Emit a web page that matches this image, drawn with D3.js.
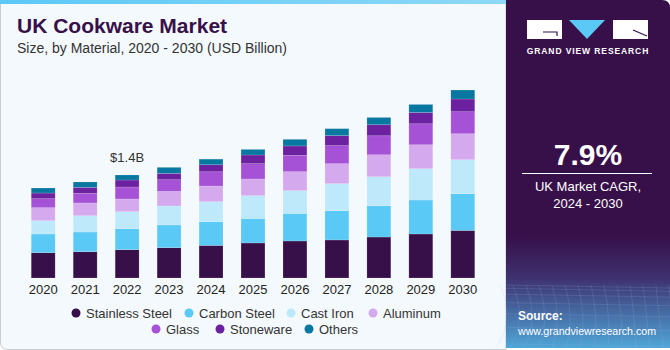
<!DOCTYPE html>
<html>
<head>
<meta charset="utf-8">
<script src="https://cdn.jsdelivr.net/npm/d3@7"></script>
<style>
  body { margin: 0; background: #fff; }
  svg { display: block; font-family: "Liberation Sans", Arial, sans-serif; }
</style>
</head>
<body>
<svg id="chart" width="670" height="350"></svg>
<script>
// data, USD billion
const years = ["2020", "2021", "2022", "2023", "2024", "2025", "2026", "2027", "2028", "2029", "2030"]
const materials = ["Stainless Steel", "Carbon Steel", "Cast Iron", "Aluminum", "Glass", "Stoneware", "Others"]
const stainlessSteel = [0.344, 0.357, 0.385, 0.412, 0.443, 0.476, 0.503, 0.517, 0.557, 0.598, 0.647]
const carbonSteel    = [0.254, 0.268, 0.285, 0.309, 0.322, 0.334, 0.375, 0.398, 0.425, 0.462, 0.499]
const castIron       = [0.181, 0.222, 0.231, 0.258, 0.272, 0.309, 0.309, 0.367, 0.394, 0.425, 0.462]
const aluminum       = [0.177, 0.173, 0.173, 0.198, 0.213, 0.227, 0.258, 0.272, 0.299, 0.326, 0.353]
const glass          = [0.122, 0.130, 0.163, 0.159, 0.194, 0.208, 0.222, 0.245, 0.258, 0.285, 0.299]
const stoneware      = [0.077, 0.082, 0.095, 0.086, 0.095, 0.118, 0.128, 0.136, 0.150, 0.154, 0.173]
const others         = [0.068, 0.073, 0.068, 0.082, 0.077, 0.076, 0.090, 0.095, 0.099, 0.109, 0.122]
const colors = ["#37104a", "#5bc9f5", "#bde9fa", "#d5a9ee", "#a552d7", "#6c21a0", "#0878a0"]

const series = [stainlessSteel, carbonSteel, castIron, aluminum, glass, stoneware, others]
const table = years.map((y, i) => {
    const row = { year: y }
    materials.forEach((m, j) => { row[m] = series[j][i] })
    return row
})

const svg = d3.select("#chart")

// left panel background
svg.append("path")
    .attr("d", "M0.5,0.5 H506 V349.5 H8 Q0.5,349.5 0.5,342 Z")
    .attr("fill", "#f4f9fd")
    .attr("stroke", "#c9ccd0")
const topGrad = svg.append("defs").append("linearGradient").attr("id", "topbar")
topGrad.append("stop").attr("offset", "0%").attr("stop-color", "#5bc9f5")
topGrad.append("stop").attr("offset", "100%").attr("stop-color", "#8fd8f7")
svg.append("rect").attr("x", 0).attr("y", 0).attr("width", 506).attr("height", 4).attr("fill", "url(#topbar)")

// titles
svg.append("text").attr("x", 17).attr("y", 33)
    .attr("font-size", 21).attr("font-weight", "bold").attr("fill", "#37104a")
    .text("UK Cookware Market")
svg.append("text").attr("x", 17).attr("y", 53)
    .attr("font-size", 14).attr("fill", "#333")
    .text("Size, by Material, 2020 - 2030 (USD Billion)")

// scales
const baseY = 278
const pxPerB = 73.57
const x = d3.scaleBand().domain(years).range([22, 484]).paddingInner(0.43).paddingOuter(0.22)
const y = d3.scaleLinear().domain([0, 2.6]).range([baseY, baseY - 2.6 * pxPerB])

const stack = d3.stack().keys(materials)(table)

const plot = svg.append("g")
stack.forEach((layer, j) => {
    plot.append("g").attr("fill", colors[j])
        .selectAll("rect")
        .data(layer)
        .join("rect")
        .attr("x", d => x(d.data.year))
        .attr("y", d => y(d[1]))
        .attr("width", x.bandwidth())
        .attr("height", d => y(d[0]) - y(d[1]))
        .attr("stroke", "#ffffff")
        .attr("stroke-opacity", 0.25)
        .attr("stroke-width", 0.6)
})

// value label on 2022
const totals = table.map(r => d3.sum(materials, m => r[m]))
svg.append("text")
    .attr("x", x("2022") + x.bandwidth() / 2)
    .attr("y", y(totals[2]) - 13)
    .attr("text-anchor", "middle").attr("font-size", 13).attr("fill", "#333")
    .text("$1.4B")

// x axis
const xAxis = svg.append("g")
    .attr("transform", `translate(0,${baseY})`)
    .call(d3.axisBottom(x).tickSize(0).tickPadding(7))
xAxis.select(".domain").remove()
xAxis.selectAll("text").attr("font-size", 13).attr("fill", "#222")
    .attr("font-family", "\"Liberation Sans\", Arial, sans-serif")

// legend
const legendRows = [
    [{ i: 0, cx: 76 }, { i: 1, cx: 189 }, { i: 2, cx: 291 }, { i: 3, cx: 373 }],
    [{ i: 4, cx: 156 }, { i: 5, cx: 220 }, { i: 6, cx: 309 }]
]
const legendY = [313, 329]
legendRows.forEach((row, r) => {
    const g = svg.append("g")
    row.forEach(item => {
        g.append("circle").attr("cx", item.cx).attr("cy", legendY[r]).attr("r", 4.5).attr("fill", colors[item.i])
        g.append("text").attr("x", item.cx + 10).attr("y", legendY[r] + 4.5)
            .attr("font-size", 13).attr("fill", "#333").text(materials[item.i])
    })
})

// right panel
const defs = svg.select("defs")
const panelGrad = defs.append("linearGradient").attr("id", "panel").attr("x1", 0).attr("y1", 0).attr("x2", 0).attr("y2", 1)
panelGrad.append("stop").attr("offset", "0%").attr("stop-color", "#37104a")
panelGrad.append("stop").attr("offset", "68%").attr("stop-color", "#37104a")
panelGrad.append("stop").attr("offset", "80%").attr("stop-color", "#3e3270")
panelGrad.append("stop").attr("offset", "100%").attr("stop-color", "#4fa6d8")
svg.append("path")
    .attr("d", "M506,0 H662 Q670,0 670,8 V348 H506 Z")
    .attr("fill", "url(#panel)")

// grid texture in panel bottom
const grid = svg.append("g").attr("stroke", "#9fb6e6").attr("stroke-opacity", 0.25).attr("fill", "none").attr("stroke-width", 0.7)
d3.range(0, 15).forEach(k => {
    grid.append("path").attr("d", `M${500 + k * 13},285 Q${515 + k * 12},320 ${496 + k * 14},348`)
})
d3.range(0, 7).forEach(k => {
    const yy = 285 + k * k * 1.3 + k * 2
    grid.append("line").attr("x1", 506).attr("x2", 670).attr("y1", yy).attr("y2", yy + 3)
})

// logo
const logo = svg.append("g")
logo.append("rect").attr("x", 527).attr("y", 20).attr("width", 35).attr("height", 19).attr("fill", "#fff")
logo.append("path").attr("d", "M543,32 H557 V36").attr("stroke", "#37104a").attr("stroke-width", 1.2).attr("fill", "none")
logo.append("path").attr("d", "M569,20 H605 L587,39 Z").attr("fill", "#5bc9f5")
logo.append("rect").attr("x", 613).attr("y", 20).attr("width", 35).attr("height", 19).attr("fill", "#fff")
logo.append("path").attr("d", "M633,30 L647,36").attr("stroke", "#37104a").attr("stroke-width", 1.2)
svg.append("text").attr("x", 588).attr("y", 54).attr("text-anchor", "middle")
    .attr("font-size", 8.5).attr("font-weight", "bold").attr("letter-spacing", 0.9).attr("fill", "#fff")
    .text("GRAND VIEW RESEARCH")

svg.append("text").attr("x", 588).attr("y", 165).attr("text-anchor", "middle")
    .attr("font-size", 30).attr("font-weight", "bold").attr("fill", "#fff").text("7.9%")
svg.append("line").attr("x1", 522).attr("x2", 652).attr("y1", 173.5).attr("y2", 173.5).attr("stroke", "#fff").attr("stroke-width", 1)
svg.append("text").attr("x", 588).attr("y", 191).attr("text-anchor", "middle")
    .attr("font-size", 13).attr("fill", "#fff").text("UK Market CAGR,")
svg.append("text").attr("x", 588).attr("y", 208).attr("text-anchor", "middle")
    .attr("font-size", 13).attr("fill", "#fff").text("2024 - 2030")

svg.append("text").attr("x", 518).attr("y", 320)
    .attr("font-size", 12).attr("font-weight", "bold").attr("fill", "#fff").text("Source:")
svg.append("text").attr("x", 518).attr("y", 335)
    .attr("font-size", 11.5).attr("fill", "#fff")
    .attr("textLength", 138).attr("lengthAdjust", "spacingAndGlyphs")
    .text("www.grandviewresearch.com")
</script>
</body>
</html>
